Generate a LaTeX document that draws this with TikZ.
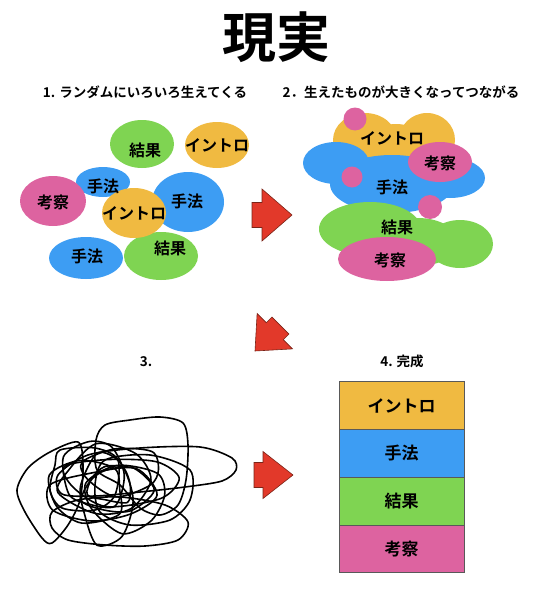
\documentclass[tikz,border=0pt]{standalone}
\usepackage{fontspec}
\setmainfont{Noto Sans CJK JP}[BoldFont=* Bold]
\usepackage{xcolor}
\usetikzlibrary{positioning}

\definecolor{introC}{HTML}{F0BA41}
\definecolor{methodC}{HTML}{3D9DF3}
\definecolor{resultC}{HTML}{7FD452}
\definecolor{discussC}{HTML}{DD63A0}
\definecolor{arrowC}{HTML}{E2392A}
\definecolor{arrowEdge}{HTML}{7A2418}

\begin{document}
\begin{tikzpicture}[
  x=1pt, y=-1pt,
  node distance=0pt,
  every node/.style={inner sep=0pt, font=\bfseries\fontsize{16}{16}\selectfont},
  panel label/.style={font=\bfseries\fontsize{13.5}{14}\selectfont},
  stack box/.style={draw=black!65, thin, outer sep=0pt,
    minimum width=125pt, minimum height=47.75pt,
    font=\bfseries\fontsize{17}{17}\selectfont},
  red arrow/.style={fill=arrowC, draw=arrowEdge, line width=0.6pt},
  scribble/.style={draw, line width=1.6pt, line join=round}
]
  \useasboundingbox (0,0) rectangle (540,594);

  \node[font=\bfseries\fontsize{54}{54}\selectfont] (title) at (276,37) {現実};

  \node[panel label] (lab1) at (145,92) {1. ランダムにいろいろ生えてくる};
  \node[panel label] (lab2) at (401,92) {2．生えたものが大きくなってつながる};
  \node[panel label] (lab3) at (146,362) {3.};
  \node[panel label] (lab4) at (402,361) {4. 完成};

  % 1. random bubbles
  \fill[resultC]  (142,144) ellipse [x radius=32, y radius=24];
  \fill[introC]   (217,145) ellipse [x radius=32, y radius=23];
  \fill[methodC]  (103,182) ellipse [x radius=27, y radius=15];
  \fill[discussC] (53,201)  ellipse [x radius=33, y radius=25];
  \fill[methodC]  (188,202) ellipse [x radius=36, y radius=30];
  \fill[methodC]  (86,258)  ellipse [x radius=37, y radius=21];
  \fill[resultC]  (161,256) ellipse [x radius=37, y radius=24];
  \fill[introC]   (134,213) ellipse [x radius=32, y radius=25];

  \node (aResult)  at (145,150) {結果};
  \node (aIntro)   at (217,145) {イントロ};
  \node (aMethod)  at (103,186) {手法};
  \node (aDiscuss) at (53,202)  {考察};
  \node (bMethod)  at (187,201) {手法};
  \node (cMethod)  at (87,256)  {手法};
  \node (bResult)  at (170,248) {結果};
  \node (bIntro)   at (134,213) {イントロ};

  % 2. grown and joined
  \fill[introC] (365,140) ellipse [x radius=32, y radius=27];
  \fill[introC] (427,140) ellipse [x radius=28, y radius=27];
  \fill[introC] (396,146) ellipse [x radius=30, y radius=22];
  \fill[methodC] (336,163) ellipse [x radius=33, y radius=21];
  \fill[methodC] (450,178) ellipse [x radius=35, y radius=20];
  \fill[methodC] (392,184) ellipse [x radius=62, y radius=29];
  \fill[discussC] (440,162) ellipse [x radius=32, y radius=20];
  \fill[resultC] (370,229) ellipse [x radius=51, y radius=27];
  \fill[resultC] (460,244) ellipse [x radius=33, y radius=24];
  \fill[resultC] (418,242) ellipse [x radius=40, y radius=24];
  \fill[discussC] (387,259) ellipse [x radius=49, y radius=22];
  \fill[discussC] (355,119) circle [radius=11.5];
  \fill[discussC] (352,177) circle [radius=10.5];
  \fill[discussC] (430,207) circle [radius=12];

  \node (gIntro)   at (392,138) {イントロ};
  \node (gDiscuss) at (440,163) {考察};
  \node (gMethod)  at (392,187) {手法};
  \node (gResult)  at (397,227) {結果};
  \node (hDiscuss) at (390,260) {考察};

  % arrows between the stages
  \draw[red arrow, shift={(292,215)}] (0,0) -- (-30,-26) -- (-30,-12.5)
    -- (-40,-12.5) -- (-40,12.5) -- (-30,12.5) -- (-30,26) -- cycle;
  \draw[red arrow, shift={(255,351)}, rotate=225] (0,0) -- (-28,-25) -- (-28,-12)
    -- (-36,-12) -- (-36,12) -- (-28,12) -- (-28,25) -- cycle;
  \draw[red arrow, shift={(293,475)}] (0,0) -- (-30,-23.5) -- (-30,-12.5)
    -- (-39,-12.5) -- (-39,12.5) -- (-30,12.5) -- (-30,23.5) -- cycle;

  % 3. tangle
  \draw[scribble] plot[smooth cycle] coordinates {(97,470) (96,440) (105,425)
    (130,420) (160,417) (183,423) (188,445) (186,480) (178,505) (160,515)
    (140,508) (120,485)};
  \draw[scribble] plot[smooth cycle] coordinates {(88,455) (140,448) (200,447)
    (232,458) (236,470) (222,481) (185,487) (140,492) (95,496) (62,494) (58,475)};
  \draw[scribble] plot[smooth cycle] coordinates {(17,490) (28,468) (50,452)
    (78,442) (83,465) (80,500) (68,525) (52,543) (42,538) (25,512)};
  \draw[scribble] plot[smooth cycle] coordinates {(52,512) (78,500) (120,497)
    (165,505) (188,522) (178,540) (145,546) (105,545) (68,540) (52,528)};
  \draw[scribble] plot[smooth cycle] coordinates {(55,465) (60,450) (95,448)
    (118,460) (115,495) (95,510) (62,508) (50,490)};
  \draw[scribble] plot[smooth cycle] coordinates {(105,460) (150,455) (190,470)
    (190,500) (170,520) (130,525) (100,512) (95,485)};
  \pgfmathsetseed{42}
  \foreach \cx/\cy/\rx/\ry in {105/480/45/30, 115/490/35/25, 95/475/30/35,
      125/470/40/22, 100/495/50/28, 110/485/25/20, 130/495/45/35,
      90/490/38/30, 120/478/55/25, 105/500/30/40}
    \draw[scribble] plot[smooth cycle, samples=7, domain=0:308, variable=\t]
      ({\cx+\rx*(1+0.25*rand)*cos(\t)}, {\cy+\ry*(1+0.25*rand)*sin(\t)});

  % 4. finished stack
  \node[stack box, fill=introC] (sIntro) at (401.5,405.5) {イントロ};
  \node[stack box, fill=methodC, below=of sIntro] (sMethod) {手法};
  \node[stack box, fill=resultC, below=of sMethod] (sResult) {結果};
  \node[stack box, fill=discussC, below=of sResult] (sDiscuss) {考察};
\end{tikzpicture}
\end{document}
